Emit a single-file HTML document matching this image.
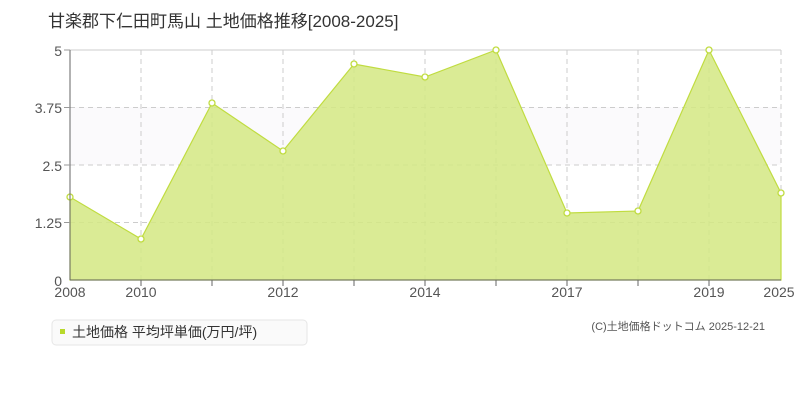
<!DOCTYPE html>
<html><head><meta charset="utf-8"><style>
body{margin:0;width:800px;height:400px;background:#fff;overflow:hidden;font-family:"Liberation Sans","Noto Sans CJK JP",sans-serif}
</style></head><body>
<svg width="800" height="400" xmlns="http://www.w3.org/2000/svg" font-family="Liberation Sans, Noto Sans CJK JP, sans-serif">
<text x="48" y="27" font-size="17" fill="#333">甘楽郡下仁田町馬山 土地価格推移[2008-2025]</text>
<rect x="70" y="107" width="711" height="58" fill="#fbfafc"/>
<line x1="70" y1="50" x2="781" y2="50" stroke="#ddd" stroke-width="1.5"/>
<g stroke="#ccc" stroke-dasharray="5,4">
<line x1="70" y1="107.5" x2="781" y2="107.5"/><line x1="70" y1="165" x2="781" y2="165"/><line x1="70" y1="222.5" x2="781" y2="222.5"/>
<line x1="141" y1="50" x2="141" y2="280"/><line x1="212" y1="50" x2="212" y2="280"/><line x1="283" y1="50" x2="283" y2="280"/><line x1="354" y1="50" x2="354" y2="280"/><line x1="425" y1="50" x2="425" y2="280"/><line x1="496" y1="50" x2="496" y2="280"/><line x1="567" y1="50" x2="567" y2="280"/><line x1="638" y1="50" x2="638" y2="280"/><line x1="709" y1="50" x2="709" y2="280"/><line x1="781" y1="50" x2="781" y2="280"/>
</g>
<polygon points="70,280 70,197 141,239 212,103 283,151 354,64 425,77 496,50 567,213 638,211 709,50 781,193 781,280" fill="#d4e783" fill-opacity="0.85" stroke="#c0dc40" stroke-width="1.2"/>
<g fill="#fff" stroke="#c0dc40" stroke-width="1.3">
<circle cx="70" cy="197" r="3"/><circle cx="141" cy="239" r="3"/><circle cx="212" cy="103" r="3"/><circle cx="283" cy="151" r="3"/><circle cx="354" cy="64" r="3"/><circle cx="425" cy="77" r="3"/><circle cx="496" cy="50" r="3"/><circle cx="567" cy="213" r="3"/><circle cx="638" cy="211" r="3"/><circle cx="709" cy="50" r="3"/><circle cx="781" cy="193" r="3"/>
</g>
<line x1="70" y1="50" x2="70" y2="280" stroke="#666"/>
<line x1="70" y1="280" x2="781" y2="280" stroke="#666"/>
<g stroke="#999"><line x1="64" y1="50" x2="70" y2="50"/><line x1="64" y1="107.5" x2="70" y2="107.5"/><line x1="64" y1="165" x2="70" y2="165"/><line x1="64" y1="222.5" x2="70" y2="222.5"/></g>
<g stroke="#666"><line x1="141" y1="280" x2="141" y2="286"/><line x1="212" y1="280" x2="212" y2="286"/><line x1="283" y1="280" x2="283" y2="286"/><line x1="354" y1="280" x2="354" y2="286"/><line x1="425" y1="280" x2="425" y2="286"/><line x1="496" y1="280" x2="496" y2="286"/><line x1="567" y1="280" x2="567" y2="286"/><line x1="638" y1="280" x2="638" y2="286"/><line x1="709" y1="280" x2="709" y2="286"/></g>
<g font-size="14" fill="#555" text-anchor="end">
<text x="62" y="56">5</text><text x="62" y="113">3.75</text><text x="62" y="171">2.5</text><text x="62" y="228">1.25</text><text x="62" y="286">0</text>
</g>
<g font-size="14" fill="#555" text-anchor="middle">
<text x="70" y="297">2008</text><text x="141" y="297">2010</text><text x="283" y="297">2012</text><text x="425" y="297">2014</text><text x="567" y="297">2017</text><text x="709" y="297">2019</text><text x="779" y="297">2025</text>
</g>
<rect x="52" y="320" width="255" height="25" rx="4" fill="#fafafa" stroke="#e6e6e6"/>
<rect x="60" y="329" width="5" height="5" fill="#b8d92a"/>
<text x="72" y="337" font-size="14" fill="#333">土地価格 平均坪単価(万円/坪)</text>
<text x="765" y="330" font-size="11" fill="#555" text-anchor="end">(C)土地価格ドットコム 2025-12-21</text>
</svg>
</body></html>
